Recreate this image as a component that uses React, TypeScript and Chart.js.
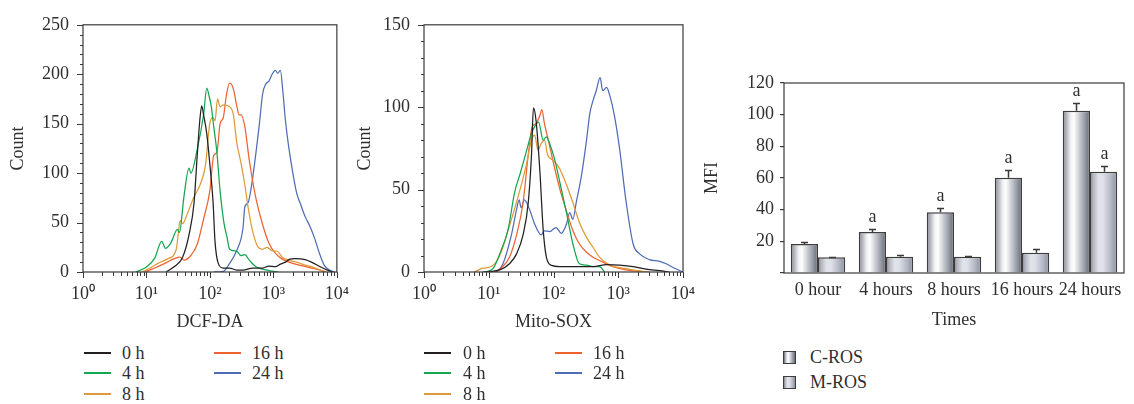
import React, { useEffect, useRef } from "react";
import { Chart, registerables } from "chart.js";

Chart.register(...registerables);

const FONT_FAMILY = "'Liberation Serif', 'Times New Roman', Times, serif";
const TEXT_COLOR = "#2f2f2f";
const AXIS_COLOR = "#3a3a3a";

type Pt = [number, number];

// ---------- Flow cytometry histograms (x = decade position of fluorescence, i.e. log10 intensity; y = cell count)
const seriesLabels = ["0 h", "4 h", "8 h", "16 h", "24 h"];
const seriesColors = ["#231f20", "#13a651", "#df9a38", "#ee6232", "#4f6db4"];
const decadeLabels = ["10⁰", "10¹", "10²", "10³", "10⁴"];

const dcf0h: Pt[] = [
  [1.31, 0], [1.44, 5.5], [1.57, 15], [1.67, 37.5], [1.75, 70], [1.8, 118], [1.84, 153], [1.87, 168],
  [1.9, 159], [1.95, 140], [2.0, 108], [2.05, 70], [2.08, 31], [2.13, 9], [2.21, 4], [2.31, 4],
  [2.42, 2], [2.52, 2], [2.67, 4], [2.83, 4], [2.93, 6], [3.03, 5.5], [3.11, 8], [3.19, 10],
  [3.26, 13], [3.34, 13.5], [3.5, 12.5], [3.6, 10], [3.73, 5.5], [3.86, 1.6], [3.93, 0],
];
const dcf4h: Pt[] = [
  [0.83, 0], [1.0, 5], [1.13, 14], [1.24, 31], [1.3, 24], [1.38, 29], [1.49, 43], [1.52, 40],
  [1.59, 76], [1.67, 105], [1.7, 100], [1.8, 124], [1.9, 159], [1.95, 186], [1.99, 177], [2.02, 168],
  [2.06, 147], [2.11, 121], [2.16, 82], [2.22, 50], [2.27, 35], [2.31, 23], [2.42, 21], [2.49, 16.5],
  [2.55, 17.5], [2.62, 12], [2.72, 5.5], [2.93, 1.5], [3.08, 0],
];
const dcf8h: Pt[] = [
  [0.93, 0], [1.03, 3], [1.18, 8.7], [1.34, 13.5], [1.47, 23], [1.5, 38], [1.53, 52], [1.57, 49],
  [1.65, 60], [1.75, 76], [1.85, 89], [1.93, 108], [2.0, 151], [2.05, 156], [2.08, 153], [2.12, 175],
  [2.16, 167], [2.21, 169], [2.31, 167], [2.37, 159], [2.42, 132], [2.49, 110], [2.55, 88], [2.6, 66],
  [2.67, 42], [2.75, 26], [2.83, 23], [2.9, 25], [2.98, 21.5], [3.06, 21], [3.14, 15], [3.24, 12],
  [3.39, 9.5], [3.5, 7], [3.6, 5.5], [3.7, 3], [3.8, 0],
];
const dcf16h: Pt[] = [
  [0.98, 0], [1.13, 4], [1.29, 8.7], [1.44, 13.5], [1.53, 15], [1.59, 12], [1.7, 16.7], [1.8, 28],
  [1.9, 53.6], [2.0, 82.5], [2.06, 118], [2.11, 121], [2.16, 150], [2.21, 156], [2.26, 179], [2.31, 191],
  [2.37, 185], [2.42, 169], [2.46, 159], [2.49, 159], [2.55, 147], [2.62, 113], [2.72, 76], [2.83, 48],
  [2.93, 29], [3.03, 19], [3.14, 13], [3.29, 9], [3.44, 6.5], [3.6, 3.9], [3.75, 1.6], [3.83, 0],
];
const dcf24h: Pt[] = [
  [2.06, 0], [2.21, 0.6], [2.31, 8.7], [2.42, 21.5], [2.52, 44], [2.55, 66], [2.6, 70], [2.65, 85],
  [2.72, 118], [2.78, 150], [2.83, 180], [2.88, 190], [2.93, 193], [2.98, 200], [3.03, 204], [3.07, 201],
  [3.11, 204], [3.15, 182], [3.19, 153], [3.24, 127], [3.32, 95], [3.37, 79], [3.42, 70], [3.5, 56],
  [3.57, 47], [3.65, 34], [3.73, 18], [3.8, 7], [3.88, 2.2], [3.96, 0],
];

const mito0h: Pt[] = [
  [0.91, 0], [1.17, 1.3], [1.32, 5], [1.43, 11], [1.53, 22.5], [1.61, 42], [1.66, 71], [1.69, 99.6],
  [1.73, 92], [1.79, 61], [1.84, 26], [1.89, 9], [1.97, 4], [2.09, 3.3], [2.35, 3.3], [2.61, 3.3],
  [2.82, 4.5], [3.02, 4.2], [3.23, 3.3], [3.43, 1.7], [3.64, 0.8], [3.79, 0],
];
const mito4h: Pt[] = [
  [0.96, 0], [1.07, 2.3], [1.17, 11], [1.3, 26], [1.4, 48.5], [1.48, 59], [1.58, 73], [1.66, 84],
  [1.72, 89], [1.77, 91], [1.84, 80], [1.89, 82], [1.94, 78], [2.02, 68], [2.1, 54], [2.2, 36],
  [2.3, 17], [2.4, 5], [2.51, 4.2], [2.61, 3.3], [2.71, 3.3], [2.79, 0],
];
const mito8h: Pt[] = [
  [0.78, 0], [0.91, 2.3], [1.04, 3.3], [1.17, 10], [1.32, 28], [1.48, 49.5], [1.58, 65], [1.66, 80],
  [1.71, 83], [1.76, 74], [1.81, 78], [1.86, 80], [1.91, 71], [1.99, 68], [2.09, 63], [2.2, 53],
  [2.3, 42], [2.4, 30], [2.51, 21], [2.61, 15], [2.71, 9], [2.87, 4.2], [3.07, 2.3], [3.28, 1], [3.43, 0],
];
const mito16h: Pt[] = [
  [1.07, 0], [1.19, 2.3], [1.32, 9], [1.43, 22.5], [1.53, 42], [1.61, 71], [1.67, 88], [1.73, 90],
  [1.79, 95], [1.82, 98.6], [1.86, 90], [1.92, 80], [2.0, 66], [2.1, 50], [2.2, 37], [2.3, 25],
  [2.4, 17], [2.51, 12], [2.61, 9], [2.71, 7], [2.92, 3.3], [3.12, 1.3], [3.33, 0.4], [3.48, 0],
];
const mito24h: Pt[] = [
  [1.12, 0], [1.22, 5], [1.35, 22.5], [1.43, 38], [1.47, 43.7], [1.5, 39], [1.55, 43.7], [1.63, 38],
  [1.71, 29], [1.81, 22.5], [1.86, 25], [1.94, 24.5], [2.04, 27], [2.12, 23.5], [2.2, 29], [2.25, 36],
  [2.3, 32], [2.35, 42], [2.43, 58], [2.51, 80], [2.56, 96], [2.61, 104], [2.66, 110], [2.72, 118],
  [2.76, 110], [2.82, 112], [2.87, 107], [2.94, 95], [3.02, 75], [3.12, 43], [3.23, 17], [3.33, 11],
  [3.48, 7.5], [3.64, 6.5], [3.74, 5], [3.87, 2.3], [4.0, 0],
];

// ---------- Bar chart
const barCategories = ["0 hour", "4 hours", "8 hours", "16 hours", "24 hours"];
const cRos = [18.3, 25.9, 38.3, 60.2, 102.5];
const mRos = [9.9, 10.3, 10.3, 12.8, 64];
const cRosErr = [1.3, 1.7, 3, 4.6, 4.9];
const mRosErr = [0.4, 1.3, 0.6, 2.4, 3.6];
const cRosSig = [false, true, true, true, true];
const mRosSig = [false, false, false, false, true];

const FS = 18;
const font = { family: FONT_FAMILY, size: FS };

Chart.defaults.color = TEXT_COLOR;

function histFramePlugin(yMajor: number, yMinor: number, yMax: number) {
  return {
    id: "histFrame",
    afterDraw(chart: any) {
      const { ctx, chartArea: a, scales } = chart;
      ctx.save();
      ctx.strokeStyle = AXIS_COLOR;
      ctx.lineWidth = 1.2;
      ctx.strokeRect(a.left, a.top, a.right - a.left, a.bottom - a.top);
      ctx.lineWidth = 1;
      ctx.beginPath();
      for (let d = 0; d <= 4; d++) {
        const px = Math.round(scales.x.getPixelForValue(d)) + 0.5;
        ctx.moveTo(px, a.bottom);
        ctx.lineTo(px, a.bottom + 6);
        if (d < 4) {
          for (let k = 2; k <= 9; k++) {
            const mx = Math.round(scales.x.getPixelForValue(d + Math.log10(k))) + 0.5;
            ctx.moveTo(mx, a.bottom);
            ctx.lineTo(mx, a.bottom + 4);
          }
        }
      }
      for (let v = 0; v <= yMax; v += yMinor) {
        const py = Math.round(scales.y.getPixelForValue(v)) + 0.5;
        const len = v % yMajor === 0 ? 6 : 3;
        ctx.moveTo(a.left - len, py);
        ctx.lineTo(a.left, py);
      }
      ctx.stroke();
      ctx.restore();
    },
  };
}

function histConfig(
  series: Pt[][],
  yMax: number,
  title: string,
  geo: { yAxisW: number; xAxisH: number; top: number; right: number; yTitlePad: number }
): any {
  const yTicks: number[] = [];
  for (let v = 0; v <= yMax; v += 50) yTicks.push(v);
  return {
    type: "line",
    data: {
      datasets: series.map((pts, i) => ({
        label: seriesLabels[i],
        data: pts.map(([x, y]) => ({ x, y })),
        borderColor: seriesColors[i],
        borderWidth: 1.25,
        pointRadius: 0,
        fill: false,
        cubicInterpolationMode: "monotone",
      })),
    },
    options: {
      responsive: false,
      maintainAspectRatio: false,
      animation: false,
      events: [],
      layout: { padding: { left: 0, top: geo.top, right: geo.right, bottom: 0 } },
      plugins: { legend: { display: false }, tooltip: { enabled: false } },
      scales: {
        x: {
          type: "linear",
          min: 0,
          max: 4,
          afterBuildTicks: (s: any) => {
            s.ticks = [0, 1, 2, 3, 4].map((v) => ({ value: v }));
          },
          afterFit: (s: any) => {
            s.height = geo.xAxisH;
          },
          grid: { display: false, drawTicks: false },
          border: { display: false },
          ticks: {
            callback: (v: number) => decadeLabels[v] ?? "",
            font,
            color: TEXT_COLOR,
            padding: 11,
            maxRotation: 0,
            autoSkip: false,
          },
          title: { display: true, text: title, font, color: TEXT_COLOR, padding: { top: 0, bottom: 7 } },
        },
        y: {
          type: "linear",
          min: 0,
          max: yMax,
          afterBuildTicks: (s: any) => {
            s.ticks = yTicks.map((v) => ({ value: v }));
          },
          afterFit: (s: any) => {
            s.width = geo.yAxisW;
          },
          grid: { display: false, drawTicks: false },
          border: { display: false },
          ticks: { font, color: TEXT_COLOR, padding: 14, autoSkip: false },
          title: { display: true, text: "Count", font, color: TEXT_COLOR, padding: { top: geo.yTitlePad, bottom: 0 } },
        },
      },
    },
    plugins: [histFramePlugin(50, 10, yMax)],
  };
}

const barGradients: [number, string][][] = [
  [[0, "#5a5d63"], [0.07, "#9b9ea5"], [0.28, "#eceef1"], [0.4, "#ffffff"], [0.62, "#c6c9d0"], [0.86, "#8b8f99"], [1, "#62666e"]],
  [[0, "#7e818b"], [0.1, "#aeb1bb"], [0.32, "#e2e4ea"], [0.48, "#dfe1e8"], [0.78, "#b3b7c3"], [1, "#8a8e9a"]],
];

function barFill(dsIndex: number) {
  return (c: any) => {
    const chart = c.chart;
    const xs = chart.scales?.x;
    if (c.type !== "data" || !xs || !chart.chartArea) return "#cfd1d6";
    const center = xs.getPixelForValue(c.dataIndex);
    const w = ((xs.width / barCategories.length) * 0.8) / 2;
    const left = dsIndex === 0 ? center - w : center;
    const g = chart.ctx.createLinearGradient(left, 0, left + w, 0);
    barGradients[dsIndex].forEach(([o, col]) => g.addColorStop(o, col));
    return g;
  };
}

const barOverlayPlugin = {
  id: "barOverlay",
  afterDatasetsDraw(chart: any) {
    const { ctx, chartArea: a, scales } = chart;
    const groups: [number[], number[], boolean[]][] = [
      [cRos, cRosErr, cRosSig],
      [mRos, mRosErr, mRosSig],
    ];
    ctx.save();
    ctx.strokeStyle = AXIS_COLOR;
    ctx.fillStyle = TEXT_COLOR;
    ctx.font = `${FS}px ${FONT_FAMILY}`;
    ctx.textAlign = "center";
    ctx.textBaseline = "middle";
    groups.forEach(([vals, errs, sig], di) => {
      const meta = chart.getDatasetMeta(di);
      meta.data.forEach((el: any, i: number) => {
        const x = Math.round(el.x) + 0.5;
        const top = scales.y.getPixelForValue(vals[i]);
        const cap = Math.round(scales.y.getPixelForValue(vals[i] + errs[i])) + 0.5;
        ctx.lineWidth = 1.5;
        ctx.beginPath();
        ctx.moveTo(x, top);
        ctx.lineTo(x, cap);
        ctx.moveTo(x - 3.5, cap);
        ctx.lineTo(x + 3.5, cap);
        ctx.stroke();
        if (sig[i]) ctx.fillText("a", x, cap - 12);
      });
    });
    ctx.lineWidth = 1.2;
    ctx.strokeRect(a.left, a.top, a.right - a.left, a.bottom - a.top);
    ctx.restore();
  },
};

function barConfig(): any {
  return {
    type: "bar",
    data: {
      labels: barCategories,
      datasets: [
        {
          label: "C-ROS",
          data: cRos,
          backgroundColor: barFill(0),
          borderColor: "#3d3d3d",
          borderWidth: 1.5,
          categoryPercentage: 0.8,
          barPercentage: 1,
        },
        {
          label: "M-ROS",
          data: mRos,
          backgroundColor: barFill(1),
          borderColor: "#3d3d3d",
          borderWidth: 1.5,
          categoryPercentage: 0.8,
          barPercentage: 1,
        },
      ],
    },
    options: {
      responsive: false,
      maintainAspectRatio: false,
      animation: false,
      events: [],
      layout: { padding: { left: 0, top: 43, right: 10, bottom: 0 } },
      plugins: { legend: { display: false }, tooltip: { enabled: false } },
      scales: {
        x: {
          afterFit: (s: any) => {
            s.height = 67;
          },
          grid: { display: false, drawTicks: false },
          border: { display: false },
          ticks: { font, color: TEXT_COLOR, padding: 6.5, maxRotation: 0, autoSkip: false },
          title: { display: true, text: "Times", font, color: TEXT_COLOR, padding: { top: 0, bottom: 8.5 } },
        },
        y: {
          min: 0,
          max: 120,
          afterFit: (s: any) => {
            s.width = 84;
          },
          ticks: {
            stepSize: 20,
            font,
            color: TEXT_COLOR,
            padding: 6,
            callback: (v: number) => (v === 0 ? "" : String(v)),
          },
          grid: { drawOnChartArea: false, tickLength: 4, color: AXIS_COLOR, lineWidth: 1.2 },
          border: { display: false },
          title: { display: true, text: "MFI", font, color: TEXT_COLOR, padding: { top: 1.2, bottom: 0 } },
        },
      },
    },
    plugins: [barOverlayPlugin],
  };
}

const textStyle: React.CSSProperties = {
  position: "absolute",
  fontFamily: FONT_FAMILY,
  fontSize: FS,
  color: TEXT_COLOR,
  lineHeight: "20px",
  whiteSpace: "nowrap",
};

function LineLegend({ lineX, textX, col2LineX, col2TextX }: { lineX: number; textX: number; col2LineX: number; col2TextX: number }) {
  const rows = [353, 373, 394];
  const items = seriesLabels.map((label, i) => {
    const col = i < 3 ? 0 : 1;
    const row = i < 3 ? i : i - 3;
    const lx = col === 0 ? lineX : col2LineX;
    const tx = col === 0 ? textX : col2TextX;
    const y = rows[row];
    return (
      <React.Fragment key={label}>
        <div style={{ position: "absolute", left: lx, top: y - 1, width: 27, height: 2, background: seriesColors[i] }} />
        <div style={{ ...textStyle, left: tx, top: y - 10 }}>{label}</div>
      </React.Fragment>
    );
  });
  return <>{items}</>;
}

const barLegendLabels = ["C-ROS", "M-ROS"];

function BarLegend() {
  const rows = [357, 382];
  return (
    <>
      {barLegendLabels.map((label, i) => (
        <React.Fragment key={label}>
          <div
            style={{
              position: "absolute",
              left: 783,
              top: rows[i] - 6.5,
              width: 11,
              height: 11,
              border: "1.2px solid #3d3d3d",
              background: `linear-gradient(to right, ${barGradients[i].map(([o, c]) => `${c} ${o * 100}%`).join(", ")})`,
            }}
          />
          <div style={{ ...textStyle, left: 810, top: rows[i] - 10 }}>{label}</div>
        </React.Fragment>
      ))}
    </>
  );
}

export default function App() {
  const c1 = useRef<HTMLCanvasElement>(null);
  const c2 = useRef<HTMLCanvasElement>(null);
  const c3 = useRef<HTMLCanvasElement>(null);

  useEffect(() => {
    const charts: Chart[] = [];
    if (c1.current) {
      charts.push(
        new Chart(
          c1.current,
          histConfig([dcf0h, dcf4h, dcf8h, dcf16h, dcf24h], 250, "DCF-DA", {
            yAxisW: 83,
            xAxisH: 68,
            top: 13,
            right: 17,
            yTitlePad: 7.2,
          })
        )
      );
    }
    if (c2.current) {
      charts.push(
        new Chart(
          c2.current,
          histConfig([mito0h, mito4h, mito8h, mito16h, mito24h], 150, "Mito-SOX", {
            yAxisW: 74,
            xAxisH: 68,
            top: 13,
            right: 27,
            yTitlePad: 4.2,
          })
        )
      );
    }
    if (c3.current) {
      charts.push(new Chart(c3.current, barConfig()));
    }
    return () => charts.forEach((ch) => ch.destroy());
  }, []);

  return (
    <div style={{ position: "absolute", left: 0, top: 0, width: 1134, height: 404, overflow: "hidden", background: "#ffffff" }}>
      <canvas ref={c1} width={360} height={340} style={{ position: "absolute", left: 0, top: 0, width: 360, height: 340 }} />
      <canvas ref={c2} width={360} height={340} style={{ position: "absolute", left: 350, top: 0, width: 360, height: 340 }} />
      <canvas ref={c3} width={434} height={300} style={{ position: "absolute", left: 700, top: 40, width: 434, height: 300 }} />
      <LineLegend lineX={84} textX={122} col2LineX={214} col2TextX={252} />
      <LineLegend lineX={424} textX={463} col2LineX={555} col2TextX={593} />
      <BarLegend />
    </div>
  );
}
